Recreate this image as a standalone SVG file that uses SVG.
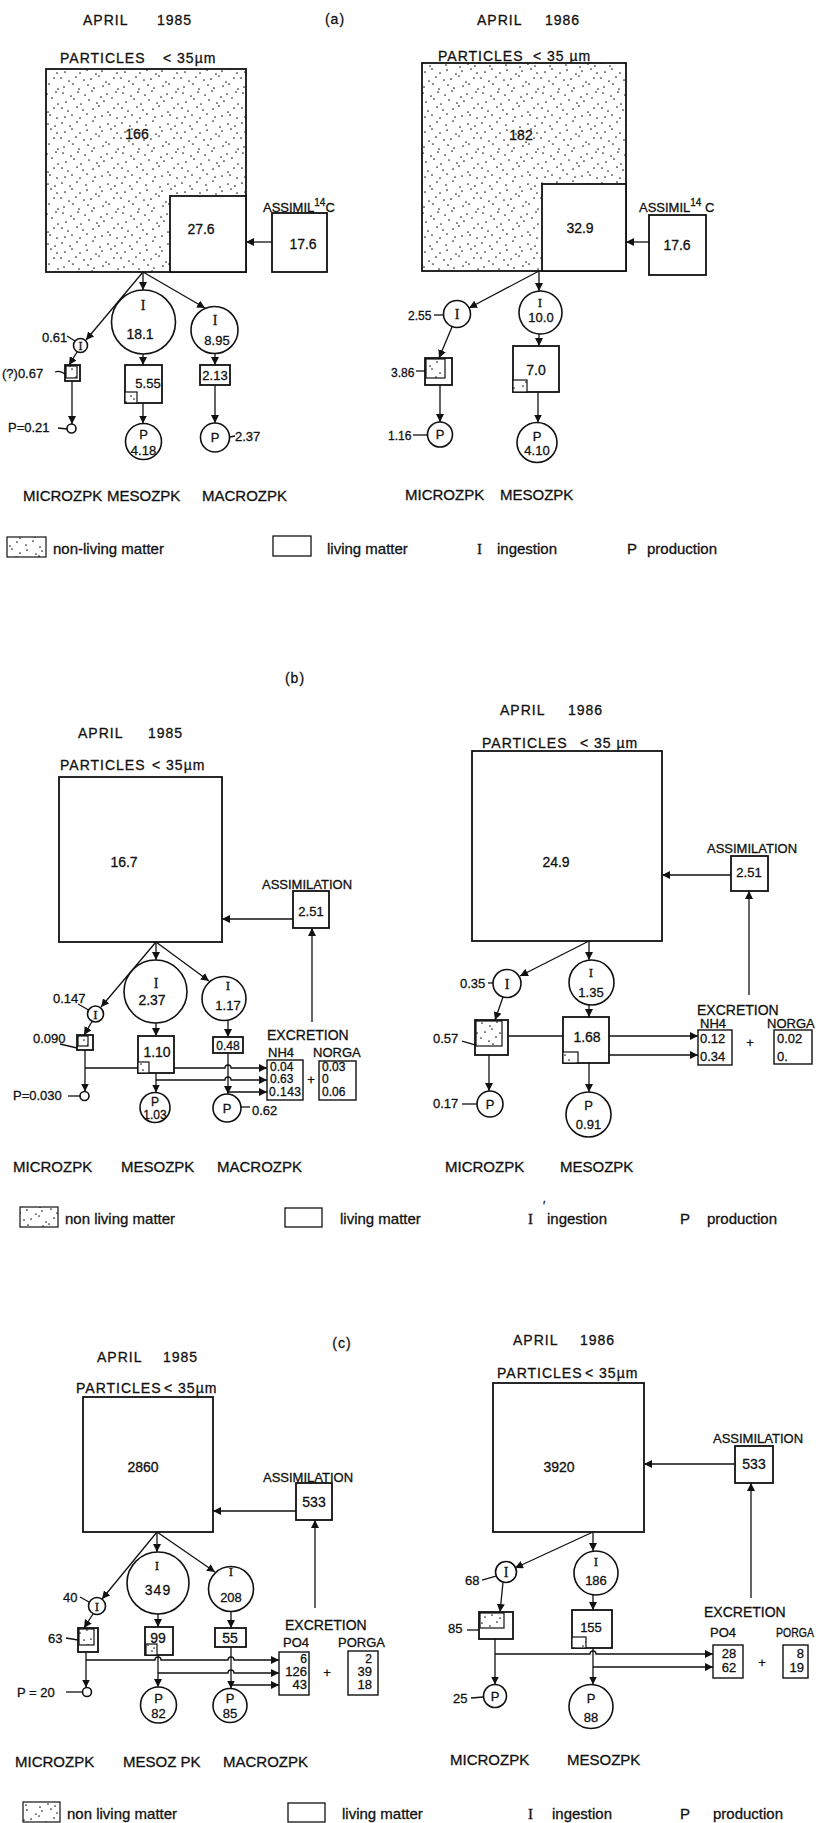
<svg xmlns="http://www.w3.org/2000/svg" width="821" height="1823" viewBox="0 0 821 1823">
<style>
text{font-family:"Liberation Sans",Arial,sans-serif;fill:#111;stroke:#111;stroke-width:0.3}
.ser{font-family:"Liberation Serif","Times New Roman",serif}
.m{text-anchor:middle}
.e{text-anchor:end}
.ti{font-size:14px;letter-spacing:1px}
.lb{font-size:15px}
.f11{font-size:11px}
.f12{font-size:12px}
.f13{font-size:13px}
.f14{font-size:14px}
.box{fill:#fff;stroke:#111;stroke-width:1.8}
.dot{fill:url(#stip);stroke:#111;stroke-width:1.8}
.dt{fill:url(#stip);stroke:#111;stroke-width:1.2}
.cir{fill:#fff;stroke:#111;stroke-width:1.6}
.ln{fill:none;stroke:#111;stroke-width:1.3}
.ar{marker-end:url(#ah)}
</style>
<defs>
<pattern id="stip" width="60" height="60" patternUnits="userSpaceOnUse">
<rect width="60" height="60" fill="#fff"/>
<g fill="#222">
<circle cx="2" cy="3" r="0.85"/><circle cx="10" cy="6" r="0.85"/><circle cx="17" cy="2" r="0.85"/><circle cx="26" cy="5" r="0.85"/><circle cx="33" cy="1" r="0.85"/><circle cx="40" cy="7" r="0.85"/><circle cx="48" cy="4" r="0.85"/><circle cx="55" cy="6" r="0.85"/>
<circle cx="5" cy="12" r="0.85"/><circle cx="12" cy="9" r="0.85"/><circle cx="20" cy="13" r="0.85"/><circle cx="27" cy="10" r="0.85"/><circle cx="36" cy="14" r="0.85"/><circle cx="42" cy="11" r="0.85"/><circle cx="51" cy="9" r="0.85"/><circle cx="57" cy="13" r="0.85"/>
<circle cx="1" cy="18" r="0.85"/><circle cx="9" cy="21" r="0.85"/><circle cx="16" cy="17" r="0.85"/><circle cx="24" cy="20" r="0.85"/><circle cx="31" cy="19" r="0.85"/><circle cx="39" cy="16" r="0.85"/><circle cx="46" cy="22" r="0.85"/><circle cx="54" cy="18" r="0.85"/>
<circle cx="4" cy="27" r="0.85"/><circle cx="13" cy="24" r="0.85"/><circle cx="19" cy="29" r="0.85"/><circle cx="28" cy="25" r="0.85"/><circle cx="34" cy="28" r="0.85"/><circle cx="43" cy="26" r="0.85"/><circle cx="49" cy="24" r="0.85"/><circle cx="58" cy="29" r="0.85"/>
<circle cx="3" cy="33" r="0.85"/><circle cx="11" cy="36" r="0.85"/><circle cx="18" cy="32" r="0.85"/><circle cx="25" cy="35" r="0.85"/><circle cx="32" cy="31" r="0.85"/><circle cx="41" cy="37" r="0.85"/><circle cx="47" cy="34" r="0.85"/><circle cx="56" cy="32" r="0.85"/>
<circle cx="6" cy="42" r="0.85"/><circle cx="14" cy="39" r="0.85"/><circle cx="21" cy="44" r="0.85"/><circle cx="29" cy="40" r="0.85"/><circle cx="37" cy="43" r="0.85"/><circle cx="44" cy="41" r="0.85"/><circle cx="52" cy="38" r="0.85"/><circle cx="58" cy="44" r="0.85"/>
<circle cx="2" cy="48" r="0.85"/><circle cx="8" cy="51" r="0.85"/><circle cx="17" cy="47" r="0.85"/><circle cx="23" cy="50" r="0.85"/><circle cx="33" cy="49" r="0.85"/><circle cx="39" cy="46" r="0.85"/><circle cx="48" cy="52" r="0.85"/><circle cx="54" cy="48" r="0.85"/>
<circle cx="5" cy="57" r="0.85"/><circle cx="12" cy="55" r="0.85"/><circle cx="20" cy="58" r="0.85"/><circle cx="27" cy="54" r="0.85"/><circle cx="35" cy="57" r="0.85"/><circle cx="42" cy="56" r="0.85"/><circle cx="50" cy="55" r="0.85"/><circle cx="57" cy="58" r="0.85"/>
</g>
</pattern>
<marker id="ah" markerWidth="8" markerHeight="8" refX="8" refY="4" orient="auto" markerUnits="userSpaceOnUse">
<path d="M0,0 L8,4 L0,8 z" fill="#111"/>
</marker>
</defs>
<rect width="821" height="1823" fill="#fff"/>

<!-- ================= PANEL (a) ================= -->
<text class="ti m" x="335" y="24">(a)</text>

<!-- (a) left -->
<g id="a85-title"><text class="ti" x="83" y="25">APRIL<tspan x="157">1985</tspan></text></g>
<g id="a85-particles">
<text class="ti" x="60" y="63">PARTICLES<tspan x="163">&lt; 35µm</tspan></text>
<rect class="dot" x="46" y="69" width="200" height="203"/>
<text class="f14 m" x="137" y="139">166</text>
</g>
<g id="a85-living"><rect class="box" x="170" y="196" width="76" height="76"/><text class="f14 m" x="201" y="234">27.6</text></g>
<g id="a85-assim">
<text class="f13" x="263" y="212">ASSIMIL<tspan dy="-6" font-size="10">14</tspan><tspan dy="6">C</tspan></text>
<rect class="box" x="272" y="213" width="55" height="59"/>
<text class="f14 m" x="303" y="249">17.6</text>
</g>
<g id="a85-micro-I"><circle class="cir" cx="80.5" cy="345.5" r="7"/><text class="f12 m ser" x="80.5" y="350">I</text><text class="f13" x="42" y="342">0.61</text></g>
<g id="a85-micro-box"><rect class="box" x="65" y="365" width="15" height="16"/><rect class="dt" x="66" y="366" width="11" height="12"/><text class="f13" x="2" y="378">(?)0.67</text></g>
<g id="a85-micro-P"><circle class="cir" cx="71.5" cy="428.5" r="4.5"/><text class="f13" x="8" y="432">P=0.21</text></g>
<g id="a85-meso-I"><circle class="cir" cx="143.5" cy="322" r="32"/><text class="f14 m ser" x="143" y="310">I</text><text class="f14 m" x="140" y="339">18.1</text></g>
<g id="a85-meso-box"><rect class="box" x="125" y="365" width="37" height="38"/><rect class="dt" x="125" y="392" width="12" height="11"/><text class="f13 m" x="148" y="388">5.55</text></g>
<g id="a85-meso-P"><circle class="cir" cx="143.5" cy="441.5" r="18"/><text class="f13 m" x="143.5" y="439">P</text><text class="f13 m" x="143.5" y="455">4.18</text></g>
<g id="a85-macro-I"><circle class="cir" cx="214.5" cy="330" r="23.5"/><text class="f14 m ser" x="215" y="325">I</text><text class="f13 m" x="217" y="345">8.95</text></g>
<g id="a85-macro-box"><rect class="box" x="200" y="365" width="30" height="20"/><text class="f13 m" x="215" y="380">2.13</text></g>
<g id="a85-macro-P"><circle class="cir" cx="215" cy="437.5" r="14.5"/><text class="f13 m" x="215" y="442">P</text><text class="f13" x="235" y="441">2.37</text></g>
<g id="a85-labels" class="lb"><text x="23" y="501">MICROZPK</text><text x="107" y="501">MESOZPK</text><text x="202" y="501">MACROZPK</text></g>
<g id="a85-conn">
<line class="ln ar" x1="272" y1="242" x2="246" y2="242"/>
<line class="ln ar" x1="143" y1="272" x2="143" y2="290"/>
<line class="ln ar" x1="143" y1="272" x2="205" y2="308"/>
<line class="ln ar" x1="143" y1="272" x2="86" y2="340"/>
<line class="ln" x1="67" y1="336" x2="75" y2="341"/>
<line class="ln ar" x1="77" y1="352" x2="69" y2="365"/>
<path class="ln" d="M55,372 q5,-2 10,2"/>
<line class="ln ar" x1="72" y1="381" x2="72" y2="424"/>
<line class="ln" x1="58" y1="428" x2="67" y2="429"/>
<line class="ln ar" x1="143" y1="354" x2="143" y2="365"/>
<line class="ln ar" x1="143" y1="403" x2="143" y2="423.5"/>
<line class="ln ar" x1="215" y1="353.5" x2="215" y2="365"/>
<line class="ln ar" x1="215" y1="385" x2="215" y2="423"/>
<line class="ln" x1="229.5" y1="437" x2="235" y2="436"/>
</g>

<!-- (a) right -->
<g id="a86-title"><text class="ti" x="477" y="25">APRIL<tspan x="545">1986</tspan></text></g>
<g id="a86-particles">
<text class="ti" x="438" y="61">PARTICLES<tspan x="533">&lt; 35 µm</tspan></text>
<rect class="dot" x="422" y="63" width="204" height="208"/>
<text class="f14 m" x="521" y="140">182</text>
</g>
<g id="a86-living"><rect class="box" x="542" y="184" width="84" height="87"/><text class="f14 m" x="580" y="233">32.9</text></g>
<g id="a86-assim">
<text class="f13" x="639" y="212">ASSIMIL<tspan dy="-6" font-size="10">14</tspan><tspan dy="6"> C</tspan></text>
<rect class="box" x="649" y="215" width="57" height="60"/>
<text class="f14 m" x="677" y="250">17.6</text>
</g>
<g id="a86-micro-I"><circle class="cir" cx="457" cy="314" r="13.5"/><text class="f14 m ser" x="457" y="319">I</text><text class="f12" x="408" y="320">2.55</text></g>
<g id="a86-micro-box"><rect class="box" x="425" y="358" width="27" height="27"/><rect class="dt" x="426" y="359" width="19" height="19"/><text class="f12" x="391" y="377">3.86</text></g>
<g id="a86-micro-P"><circle class="cir" cx="440" cy="434.5" r="12.5"/><text class="f13 m" x="440" y="439">P</text><text class="f12" x="388" y="440">1.16</text></g>
<g id="a86-meso-I"><circle class="cir" cx="540.5" cy="312.5" r="21.5"/><text class="f13 m ser" x="540" y="307">I</text><text class="f13 m" x="541" y="322">10.0</text></g>
<g id="a86-meso-box"><rect class="box" x="513" y="346" width="46" height="46"/><rect class="dt" x="513" y="380" width="14" height="12"/><text class="f14 m" x="536" y="375">7.0</text></g>
<g id="a86-meso-P"><circle class="cir" cx="537" cy="442.5" r="20"/><text class="f13 m" x="537" y="441">P</text><text class="f13 m" x="537" y="455">4.10</text></g>
<g id="a86-labels" class="lb"><text x="405" y="500">MICROZPK</text><text x="500" y="500">MESOZPK</text></g>
<g id="a86-conn">
<line class="ln ar" x1="649" y1="242" x2="626" y2="242"/>
<line class="ln ar" x1="539" y1="271" x2="539" y2="291"/>
<line class="ln ar" x1="539" y1="271" x2="469" y2="308"/>
<line class="ln" x1="434" y1="315" x2="443.5" y2="315"/>
<line class="ln ar" x1="452" y1="327" x2="439" y2="358"/>
<line class="ln" x1="416" y1="371" x2="425" y2="371"/>
<line class="ln ar" x1="440" y1="385" x2="440" y2="422"/>
<line class="ln" x1="413" y1="435" x2="427.5" y2="435"/>
<line class="ln ar" x1="539" y1="334" x2="539" y2="346"/>
<line class="ln ar" x1="538" y1="392" x2="538" y2="422.5"/>
</g>

<!-- (a) legend -->
<g id="a-legend">
<rect class="dt" x="7" y="537" width="39" height="20"/><text class="lb" x="53" y="554">non-living matter</text>
<rect class="box" x="273" y="536" width="38" height="20" style="stroke-width:1.3"/><text class="lb" x="327" y="554">living matter</text>
<text class="lb ser" x="477" y="554">I</text><text class="lb" x="497" y="554">ingestion</text>
<text class="lb" x="627" y="554">P</text><text class="lb" x="647" y="554">production</text>
</g>

<!-- ================= PANEL (b) ================= -->
<text class="ti m" x="295" y="683">(b)</text>

<!-- (b) left -->
<g id="b85-title"><text class="ti" x="78" y="738">APRIL<tspan x="148">1985</tspan></text></g>
<g id="b85-particles">
<text class="ti" x="60" y="770">PARTICLES<tspan x="152">&lt; 35µm</tspan></text>
<rect class="box" x="59" y="777" width="163" height="165"/>
<text class="f14 m" x="124" y="867">16.7</text>
</g>
<g id="b85-assim">
<text class="f13" x="262" y="889">ASSIMILATION</text>
<rect class="box" x="293" y="891" width="36" height="37"/>
<text class="f13 m" x="311" y="916">2.51</text>
</g>
<g id="b85-micro-I"><circle class="cir" cx="95.5" cy="1014" r="8"/><text class="f13 m ser" x="95.5" y="1019">I</text><text class="f13" x="53" y="1003">0.147</text></g>
<g id="b85-micro-box"><rect class="box" x="77" y="1035" width="16" height="15"/><rect class="dt" x="78" y="1036" width="10" height="10"/><text class="f13" x="33" y="1043">0.090</text></g>
<g id="b85-micro-P"><circle class="cir" cx="84.5" cy="1096" r="4.5"/><text class="f13" x="13" y="1100">P=0.030</text></g>
<g id="b85-meso-I"><circle class="cir" cx="155.5" cy="991.5" r="31.5"/><text class="f14 m ser" x="156" y="988">I</text><text class="f14 m" x="152" y="1005">2.37</text></g>
<g id="b85-meso-box"><rect class="box" x="138" y="1036" width="36" height="37"/><rect class="dt" x="138" y="1062" width="11" height="11"/><text class="f14 m" x="157" y="1057">1.10</text></g>
<g id="b85-meso-P"><circle class="cir" cx="155" cy="1107.5" r="15"/><text class="f12 m" x="155" y="1106">P</text><text class="f12 m" x="155" y="1119">1.03</text></g>
<g id="b85-macro-I"><circle class="cir" cx="224" cy="998.5" r="22"/><text class="f13 m ser" x="228" y="990">I</text><text class="f13 m" x="228" y="1010">1.17</text></g>
<g id="b85-macro-box"><rect class="box" x="213" y="1037" width="30" height="16"/><text class="f12 m" x="228" y="1050">0.48</text></g>
<g id="b85-macro-P"><circle class="cir" cx="227" cy="1108" r="14"/><text class="f13 m" x="227" y="1113">P</text><text class="f13" x="252" y="1115">0.62</text></g>
<g id="b85-excretion">
<text class="f14" x="267" y="1040">EXCRETION</text>
<text class="f13" x="268" y="1057">NH4</text><text class="f13" x="313" y="1057">NORGA</text>
<rect class="box" x="267" y="1060" width="36" height="40" style="stroke-width:1.4"/>
<text class="f12" x="270" y="1071">0.04</text><text class="f12" x="270" y="1083">0.63</text><text class="f12" x="269" y="1096" textLength="32">0.143</text>
<text class="f13 m" x="311" y="1084">+</text>
<rect class="box" x="319" y="1061" width="37" height="39" style="stroke-width:1.4"/>
<text class="f12" x="322" y="1071">0.03</text><text class="f12" x="322" y="1083">0</text><text class="f12" x="322" y="1096">0.06</text>
</g>
<g id="b85-labels" class="lb"><text x="13" y="1172">MICROZPK</text><text x="121" y="1172">MESOZPK</text><text x="217" y="1172">MACROZPK</text></g>
<g id="b85-conn">
<line class="ln ar" x1="293" y1="919" x2="222" y2="919"/>
<line class="ln ar" x1="312" y1="1022" x2="312" y2="928"/>
<line class="ln ar" x1="156" y1="942" x2="156" y2="960"/>
<line class="ln ar" x1="156" y1="942" x2="209" y2="981"/>
<line class="ln ar" x1="156" y1="942" x2="101" y2="1007"/>
<line class="ln" x1="78" y1="1004" x2="88.5" y2="1010"/>
<line class="ln ar" x1="92" y1="1021.5" x2="84" y2="1035"/>
<line class="ln" x1="60" y1="1044" x2="77" y2="1048"/>
<line class="ln ar" x1="85" y1="1050" x2="85" y2="1091.5"/>
<line class="ln" x1="68" y1="1096" x2="80" y2="1096"/>
<line class="ln ar" x1="156" y1="1023" x2="156" y2="1036"/>
<line class="ln ar" x1="156" y1="1073" x2="156" y2="1092.5"/>
<line class="ln ar" x1="228" y1="1020.5" x2="228" y2="1037"/>
<line class="ln ar" x1="228" y1="1053" x2="228" y2="1094"/>
<line class="ln" x1="241" y1="1107" x2="250" y2="1107"/>
<path class="ln" d="M85,1068 H138"/>
<path class="ln ar" d="M174,1068 H225 a3,3 0 0 1 6,0 H267"/>
<path class="ln ar" d="M156,1080 H225 a3,3 0 0 1 6,0 H267"/>
<path class="ln ar" d="M228,1092 H267"/>
</g>

<!-- (b) right -->
<g id="b86-title"><text class="ti" x="500" y="715">APRIL<tspan x="568">1986</tspan></text></g>
<g id="b86-particles">
<text class="ti" x="482" y="748">PARTICLES<tspan x="580">&lt; 35 µm</tspan></text>
<rect class="box" x="472" y="751" width="190" height="190"/>
<text class="f14 m" x="556" y="867">24.9</text>
</g>
<g id="b86-assim">
<text class="f13" x="707" y="853">ASSIMILATION</text>
<rect class="box" x="731" y="856" width="37" height="35"/>
<text class="f13 m" x="749" y="877">2.51</text>
</g>
<g id="b86-micro-I"><circle class="cir" cx="507" cy="983.5" r="14"/><text class="f14 m ser" x="507" y="988.5">I</text><text class="f13" x="460" y="988">0.35</text></g>
<g id="b86-micro-box"><rect class="box" x="475" y="1020" width="33" height="35"/><rect class="dt" x="476" y="1021" width="26" height="25"/><text class="f13" x="433" y="1043">0.57</text></g>
<g id="b86-micro-P"><circle class="cir" cx="490" cy="1104" r="13"/><text class="f13 m" x="490" y="1109">P</text><text class="f13" x="433" y="1108">0.17</text></g>
<g id="b86-meso-I"><circle class="cir" cx="591.5" cy="982.5" r="22.5"/><text class="f13 m ser" x="591" y="977">I</text><text class="f13 m" x="591" y="997">1.35</text></g>
<g id="b86-meso-box"><rect class="box" x="563" y="1017" width="46" height="46"/><rect class="dt" x="563" y="1052" width="15" height="11"/><text class="f14 m" x="587" y="1042">1.68</text></g>
<g id="b86-meso-P"><circle class="cir" cx="588.5" cy="1114.5" r="22.5"/><text class="f13 m" x="588.5" y="1110">P</text><text class="f13 m" x="588.5" y="1129">0.91</text></g>
<g id="b86-excretion">
<text class="f14" x="697" y="1015">EXCRETION</text>
<text class="f13" x="700" y="1028">NH4</text><text class="f13" x="767" y="1028">NORGA</text>
<rect class="box" x="698" y="1030" width="34" height="35" style="stroke-width:1.4"/>
<text class="f13" x="700" y="1043">0.12</text><text class="f13" x="700" y="1061">0.34</text>
<text class="f13 m" x="750" y="1047">+</text>
<rect class="box" x="774" y="1030" width="38" height="34" style="stroke-width:1.4"/>
<text class="f13" x="777" y="1043">0.02</text><text class="f13" x="777" y="1061">0.</text>
</g>
<g id="b86-labels" class="lb"><text x="445" y="1172">MICROZPK</text><text x="560" y="1172">MESOZPK</text></g>
<g id="b86-conn">
<line class="ln ar" x1="731" y1="875" x2="662" y2="875"/>
<line class="ln ar" x1="749" y1="995" x2="749" y2="891"/>
<line class="ln ar" x1="589" y1="941" x2="589" y2="960"/>
<line class="ln ar" x1="589" y1="941" x2="520" y2="976"/>
<line class="ln" x1="488" y1="983" x2="493" y2="983"/>
<line class="ln ar" x1="503" y1="997" x2="495" y2="1020"/>
<line class="ln" x1="462" y1="1041" x2="476" y2="1045"/>
<line class="ln ar" x1="489" y1="1055" x2="489" y2="1091"/>
<line class="ln" x1="462" y1="1104" x2="477" y2="1104"/>
<line class="ln ar" x1="589" y1="1005" x2="589" y2="1017"/>
<line class="ln ar" x1="589" y1="1063" x2="589" y2="1092"/>
<line class="ln" x1="508" y1="1036" x2="563" y2="1036"/>
<line class="ln ar" x1="609" y1="1036" x2="698" y2="1036"/>
<line class="ln ar" x1="609" y1="1055" x2="698" y2="1055"/>
</g>

<!-- (b) legend -->
<g id="b-legend">
<rect class="dt" x="20" y="1207" width="38" height="20"/><text class="lb" x="65" y="1224">non  living matter</text>
<rect class="box" x="285" y="1208" width="37" height="19" style="stroke-width:1.3"/><text class="lb" x="340" y="1224">living matter</text>
<text class="lb ser" x="528" y="1224">I</text><text class="f12" x="543" y="1210">′</text><text class="lb" x="547" y="1224">ingestion</text>
<text class="lb" x="680" y="1224">P</text><text class="lb" x="707" y="1224">production</text>
</g>

<!-- ================= PANEL (c) ================= -->
<text class="ti m" x="342" y="1348">(c)</text>

<!-- (c) left -->
<g id="c85-title"><text class="ti" x="97" y="1362">APRIL<tspan x="163">1985</tspan></text></g>
<g id="c85-particles">
<text class="ti" x="76" y="1393">PARTICLES<tspan x="164">&lt; 35µm</tspan></text>
<rect class="box" x="83" y="1397" width="130" height="135"/>
<text class="f14 m" x="143" y="1472">2860</text>
</g>
<g id="c85-assim">
<text class="f13" x="263" y="1482">ASSIMILATION</text>
<rect class="box" x="296" y="1483" width="36" height="37"/>
<text class="f14 m" x="314" y="1507">533</text>
</g>
<g id="c85-micro-I"><circle class="cir" cx="97" cy="1606" r="8.5"/><text class="f13 m ser" x="97" y="1611">I</text><text class="f13" x="63" y="1602">40</text></g>
<g id="c85-micro-box"><rect class="box" x="78" y="1628" width="20" height="24"/><rect class="dt" x="79" y="1629" width="15" height="16"/><text class="f13" x="48" y="1643">63</text></g>
<g id="c85-micro-P"><circle class="cir" cx="87" cy="1692" r="4.5"/><text class="f13" x="17" y="1697">P = 20</text></g>
<g id="c85-meso-I"><circle class="cir" cx="158" cy="1583" r="31"/><text class="f13 m ser" x="157" y="1570">I</text><text class="f14 m" x="158" y="1595" letter-spacing="1">349</text></g>
<g id="c85-meso-box"><rect class="box" x="145" y="1627" width="28" height="28"/><rect class="dt" x="146" y="1644" width="11" height="11"/><text class="f14 m" x="158" y="1643">99</text></g>
<g id="c85-meso-P"><circle class="cir" cx="158.5" cy="1705" r="18"/><text class="f13 m" x="158.5" y="1703">P</text><text class="f13 m" x="158.5" y="1718">82</text></g>
<g id="c85-macro-I"><circle class="cir" cx="231" cy="1589" r="22.5"/><text class="f13 m ser" x="231" y="1576">I</text><text class="f13 m" x="231" y="1602">208</text></g>
<g id="c85-macro-box"><rect class="box" x="215" y="1628" width="31" height="19"/><text class="f14 m" x="230" y="1643">55</text></g>
<g id="c85-macro-P"><circle class="cir" cx="230" cy="1705.5" r="17"/><text class="f13 m" x="230" y="1703">P</text><text class="f13 m" x="230" y="1718">85</text></g>
<g id="c85-excretion">
<text class="f14" x="285" y="1630">EXCRETION</text>
<text class="f13" x="283" y="1647">PO4</text><text class="f13" x="338" y="1647">PORGA</text>
<rect class="box" x="279" y="1652" width="30" height="43" style="stroke-width:1.4"/>
<text class="f12 e" x="307" y="1663">6</text><text class="f13 e" x="307" y="1676">126</text><text class="f13 e" x="307" y="1689">43</text>
<text class="f13 m" x="327" y="1677">+</text>
<rect class="box" x="348" y="1651" width="30" height="44" style="stroke-width:1.4"/>
<text class="f12 e" x="372" y="1663">2</text><text class="f13 e" x="372" y="1676">39</text><text class="f13 e" x="372" y="1689">18</text>
</g>
<g id="c85-labels" class="lb"><text x="15" y="1767">MICROZPK</text><text x="123" y="1767">MESOZ PK</text><text x="223" y="1767">MACROZPK</text></g>
<g id="c85-conn">
<line class="ln ar" x1="296" y1="1511" x2="213" y2="1511"/>
<line class="ln ar" x1="315" y1="1608" x2="315" y2="1520"/>
<line class="ln ar" x1="157" y1="1532" x2="157" y2="1552"/>
<line class="ln ar" x1="157" y1="1532" x2="215" y2="1572"/>
<line class="ln ar" x1="157" y1="1532" x2="102" y2="1599"/>
<line class="ln" x1="80" y1="1597" x2="89" y2="1602"/>
<line class="ln ar" x1="93" y1="1614" x2="84" y2="1628"/>
<line class="ln" x1="66" y1="1638" x2="78" y2="1640"/>
<line class="ln ar" x1="86" y1="1652" x2="86" y2="1687.5"/>
<line class="ln" x1="66" y1="1692" x2="82.5" y2="1692"/>
<line class="ln ar" x1="158" y1="1614" x2="158" y2="1627"/>
<line class="ln ar" x1="158" y1="1655" x2="158" y2="1687"/>
<line class="ln ar" x1="231" y1="1611.5" x2="231" y2="1628"/>
<line class="ln ar" x1="231" y1="1647" x2="231" y2="1688.5"/>
<path class="ln ar" d="M86,1660 H155 a3,3 0 0 1 6,0 H228 a3,3 0 0 1 6,0 H279"/>
<path class="ln ar" d="M158,1673 H228 a3,3 0 0 1 6,0 H279"/>
<path class="ln ar" d="M231,1685 H279"/>
</g>

<!-- (c) right -->
<g id="c86-title"><text class="ti" x="513" y="1345">APRIL<tspan x="580">1986</tspan></text></g>
<g id="c86-particles">
<text class="ti" x="497" y="1378">PARTICLES<tspan x="585">&lt; 35µm</tspan></text>
<rect class="box" x="493" y="1383" width="151" height="149"/>
<text class="f14 m" x="559" y="1472">3920</text>
</g>
<g id="c86-assim">
<text class="f13" x="713" y="1443">ASSIMILATION</text>
<rect class="box" x="735" y="1446" width="38" height="37"/>
<text class="f14 m" x="754" y="1469">533</text>
</g>
<g id="c86-micro-I"><circle class="cir" cx="506" cy="1572" r="10.5"/><text class="f14 m ser" x="506" y="1577">I</text><text class="f13" x="465" y="1585">68</text></g>
<g id="c86-micro-box"><rect class="box" x="479" y="1612" width="34" height="27"/><rect class="dt" x="480" y="1613" width="24" height="15"/><text class="f13" x="448" y="1633">85</text></g>
<g id="c86-micro-P"><circle class="cir" cx="495" cy="1696" r="11.5"/><text class="f13 m" x="495" y="1701">P</text><text class="f13" x="453" y="1703">25</text></g>
<g id="c86-meso-I"><circle class="cir" cx="596" cy="1573" r="22"/><text class="f13 m ser" x="596" y="1566">I</text><text class="f13 m" x="596" y="1585">186</text></g>
<g id="c86-meso-box"><rect class="box" x="572" y="1610" width="40" height="38"/><rect class="dt" x="572" y="1637" width="14" height="11"/><text class="f13 m" x="591" y="1632">155</text></g>
<g id="c86-meso-P"><circle class="cir" cx="591" cy="1706.5" r="22"/><text class="f13 m" x="591" y="1703">P</text><text class="f13 m" x="591" y="1722">88</text></g>
<g id="c86-excretion">
<text class="f14" x="704" y="1617">EXCRETION</text>
<text class="f13" x="710" y="1637">PO4</text><text class="f12" x="776" y="1637" textLength="38" lengthAdjust="spacingAndGlyphs">PORGA</text>
<rect class="box" x="713" y="1645" width="30" height="33" style="stroke-width:1.4"/>
<text class="f13 m" x="729" y="1658">28</text><text class="f13 m" x="729" y="1672">62</text>
<text class="f13 m" x="762" y="1667">+</text>
<rect class="box" x="783" y="1645" width="25" height="33" style="stroke-width:1.4"/>
<text class="f13 e" x="804" y="1658">8</text><text class="f13 e" x="804" y="1672">19</text>
</g>
<g id="c86-labels" class="lb"><text x="450" y="1765">MICROZPK</text><text x="567" y="1765">MESOZPK</text></g>
<g id="c86-conn">
<line class="ln ar" x1="735" y1="1464" x2="644" y2="1464"/>
<line class="ln ar" x1="751" y1="1598" x2="751" y2="1483"/>
<line class="ln ar" x1="593" y1="1532" x2="593" y2="1551"/>
<line class="ln ar" x1="593" y1="1532" x2="515" y2="1568"/>
<line class="ln" x1="482" y1="1580" x2="496" y2="1576"/>
<line class="ln ar" x1="503" y1="1582.5" x2="500" y2="1612"/>
<line class="ln" x1="467" y1="1630" x2="479" y2="1630"/>
<line class="ln ar" x1="495" y1="1639" x2="495" y2="1684.5"/>
<line class="ln" x1="471" y1="1698" x2="483.5" y2="1697"/>
<line class="ln ar" x1="593" y1="1595" x2="593" y2="1610"/>
<line class="ln ar" x1="593" y1="1648" x2="593" y2="1684.5"/>
<path class="ln ar" d="M495,1654 H590 a3,3 0 0 1 6,0 H713"/>
<path class="ln ar" d="M593,1667 H713"/>
</g>

<!-- (c) legend -->
<g id="c-legend">
<rect class="dt" x="23" y="1802" width="37" height="20"/><text class="lb" x="67" y="1819">non  living matter</text>
<rect class="box" x="288" y="1803" width="37" height="19" style="stroke-width:1.3"/><text class="lb" x="342" y="1819">living matter</text>
<text class="lb ser" x="528" y="1819">I</text><text class="lb" x="552" y="1819">ingestion</text>
<text class="lb" x="680" y="1819">P</text><text class="lb" x="713" y="1819">production</text>
</g>
</svg>
